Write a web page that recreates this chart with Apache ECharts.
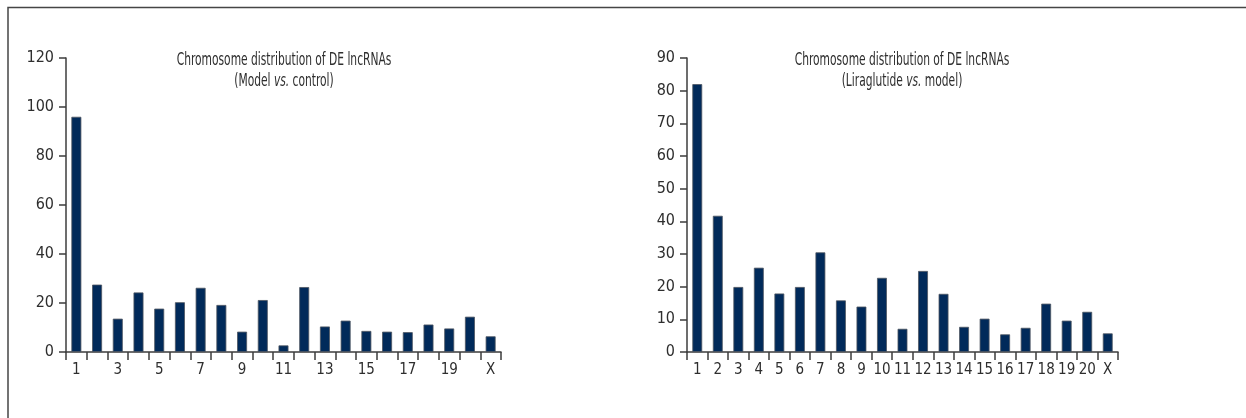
<!DOCTYPE html>
<html>
<head>
<meta charset="utf-8">
<script src="https://cdn.jsdelivr.net/npm/echarts@6/dist/echarts.min.js"></script>
<style>
  html, body { margin: 0; padding: 0; background: #fff; }
  #chart { width: 1246px; height: 418px; }
</style>
</head>
<body>
<div id="chart"></div>
<script>
// Chromosome labels (shared by both panels)
const chromosomes = ['1','2','3','4','5','6','7','8','9','10','11','12','13','14','15','16','17','18','19','20','X'];

// DE lncRNA counts per chromosome, Model vs. control
const modelVsControl = [96, 27.5, 13.6, 24.3, 17.7, 20.3, 26.2, 19.2, 8.3, 21.2, 2.7, 26.5, 10.4, 12.8, 8.6, 8.3, 8.1, 11.2, 9.6, 14.4, 6.4];

// DE lncRNA counts per chromosome, Liraglutide vs. model
const liraglutideVsModel = [82, 41.7, 19.9, 25.8, 17.9, 19.9, 30.5, 15.8, 13.9, 22.7, 7.1, 24.8, 17.8, 7.7, 10.2, 5.4, 7.4, 14.8, 9.6, 12.3, 5.7];

// Panel headings
const titleLine1 = 'Chromosome distribution of DE lncRNAs';
const leftSubtitle = ['(Model ', 'vs.', ' control)'];
const rightSubtitle = ['(Liraglutide ', 'vs.', ' model)'];

// Y-axis ranges
const leftAxis = { max: 120, step: 20 };
const rightAxis = { max: 90, step: 10 };

const FONT = "'DejaVu Sans Condensed', 'Liberation Sans Narrow', sans-serif";
const INK = '#2e2e2e';
const AXIS = '#3c3c3c';
const BAR = '#012a5a';

function xAxisFor(gridIndex, labelInterval) {
  return {
    type: 'category',
    gridIndex: gridIndex,
    data: chromosomes,
    boundaryGap: true,
    axisLine: { show: true, lineStyle: { color: AXIS, width: 1.5 } },
    axisTick: { show: true, interval: 0, length: 8, lineStyle: { color: AXIS, width: 1.5 } },
    axisLabel: { interval: labelInterval, margin: 11, fontFamily: FONT, fontSize: 15, color: INK },
    splitLine: { show: false }
  };
}

function yAxisFor(gridIndex, cfg) {
  return {
    type: 'value',
    gridIndex: gridIndex,
    min: 0,
    max: cfg.max,
    interval: cfg.step,
    axisLine: { show: true, lineStyle: { color: AXIS, width: 1.5 } },
    axisTick: { show: true, length: 7, lineStyle: { color: AXIS, width: 1.5 } },
    axisLabel: { margin: 12, fontFamily: FONT, fontSize: 16, color: INK },
    splitLine: { show: false }
  };
}

function barSeries(idx, data) {
  return {
    type: 'bar',
    xAxisIndex: idx,
    yAxisIndex: idx,
    data: data,
    barWidth: '48%',
    itemStyle: { color: BAR, borderColor: '#4e5661', borderWidth: 0.8 },
    animation: false
  };
}

// Narrow two-line heading centred at cx
function heading(cx, sub) {
  const base = { fontFamily: FONT, fontSize: 18, fill: INK };
  return [
    {
      type: 'text', x: cx, y: 60, scaleX: 0.66, silent: true,
      style: Object.assign({ text: titleLine1, align: 'center', verticalAlign: 'middle' }, base)
    },
    {
      type: 'text', x: cx, y: 81, scaleX: 0.66, silent: true,
      style: Object.assign({
        text: '{b|' + sub[0] + '}{i|' + sub[1] + '}{b|' + sub[2] + '}',
        align: 'center', verticalAlign: 'middle',
        rich: {
          b: { fontFamily: FONT, fontSize: 18, fill: INK },
          i: { fontFamily: FONT, fontSize: 18, fill: INK, fontStyle: 'italic' }
        }
      }, base)
    }
  ];
}

const chart = echarts.init(document.getElementById('chart'), null, { renderer: 'canvas' });

chart.setOption({
  backgroundColor: '#ffffff',
  animation: false,
  grid: [
    { left: 66, top: 58, width: 435, height: 294, containLabel: false },
    { left: 687, top: 58, width: 431, height: 294, containLabel: false }
  ],
  xAxis: [xAxisFor(0, 1), xAxisFor(1, 0)],
  yAxis: [yAxisFor(0, leftAxis), yAxisFor(1, rightAxis)],
  series: [barSeries(0, modelVsControl), barSeries(1, liraglutideVsModel)],
  graphic: [
    // outer figure frame (top and left edges)
    {
      type: 'polyline',
      silent: true,
      shape: { points: [[8, 418], [8, 7.5], [1246, 7.5]] },
      style: { stroke: '#454545', lineWidth: 1.5, fill: null }
    }
  ].concat(heading(284, leftSubtitle), heading(902, rightSubtitle))
});
</script>
</body>
</html>
